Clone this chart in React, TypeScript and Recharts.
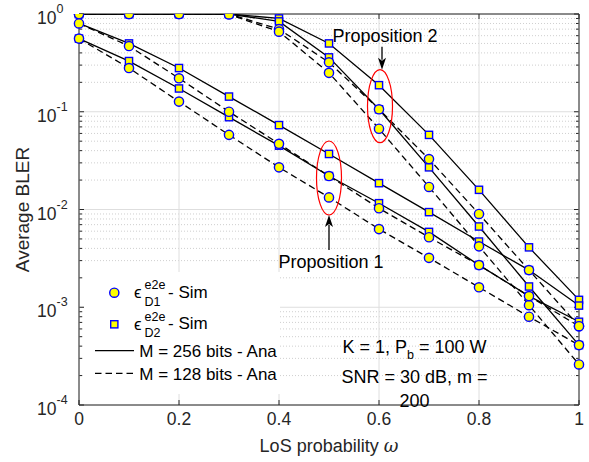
import { LineChart, Line, XAxis, YAxis, ReferenceLine, ReferenceDot, Legend } from 'recharts'

// LoS probability values on the x axis
const omega = [0, 0.1, 0.2, 0.3, 0.4, 0.5, 0.6, 0.7, 0.8, 0.9, 1]

// Proposition 2 group (starts at BLER = 1)
const p2SolidA = [1, 1, 1, 1, 0.9, 0.5, 0.187, 0.058, 0.0159, 0.0041, 0.00119]
const p2SolidB = [1, 1, 1, 1, 0.84, 0.36, 0.106, 0.027, 0.0067, 0.00163, 0.00041]
const p2DashA = [1, 1, 1, 1, 0.7, 0.32, 0.106, 0.0328, 0.009, 0.0024, 0.00064]
const p2DashB = [1, 1, 1, 0.99, 0.66, 0.25, 0.067, 0.017, 0.0042, 0.00105, 0.00026]

// Proposition 1 group
const p1SolidA = [0.8, 0.5, 0.28, 0.143, 0.073, 0.037, 0.0186, 0.0094, 0.0047, 0.0024, 0.00104]
const p1DashA = [0.8, 0.47, 0.22, 0.1, 0.047, 0.022, 0.0103, 0.0052, 0.0027, 0.0013, 0.00064]
const p1SolidB = [0.56, 0.33, 0.173, 0.088, 0.045, 0.022, 0.0116, 0.0059, 0.0027, 0.0013, 0.00071]
const p1DashB = [0.56, 0.28, 0.127, 0.058, 0.027, 0.0133, 0.0063, 0.0032, 0.0016, 0.0008, 0.00041]

const xTicks = [0, 0.2, 0.4, 0.6, 0.8, 1]
const xTickLabels = ['0', '0.2', '0.4', '0.6', '0.8', '1']
const yTicks = [1e-4, 1e-3, 1e-2, 1e-1, 1]
const yTickExp = ['-4', '-3', '-2', '-1', '0']
const minorMantissa = [2, 3, 4, 5, 6, 7, 8, 9]

const FONT = '"Liberation Sans", Arial, Helvetica, sans-serif'
const INK = '#262626'
const GRID = '#dedede'
const MINOR = '#cfcfcf'

type Series = { key: string; values: number[]; dashed: boolean; marker: 'square' | 'circle'; skip?: number[] }

const series: Series[] = [
  { key: 'p2SolidA', values: p2SolidA, dashed: false, marker: 'square' },
  { key: 'p2SolidB', values: p2SolidB, dashed: false, marker: 'square' },
  { key: 'p2DashA', values: p2DashA, dashed: true, marker: 'circle' },
  { key: 'p2DashB', values: p2DashB, dashed: true, marker: 'circle' },
  { key: 'p1SolidA', values: p1SolidA, dashed: false, marker: 'square', skip: [0] },
  { key: 'p1DashA', values: p1DashA, dashed: true, marker: 'circle' },
  { key: 'p1SolidB', values: p1SolidB, dashed: false, marker: 'square' },
  { key: 'p1DashB', values: p1DashB, dashed: true, marker: 'circle' },
]

const data = omega.map((w, i) => {
  const row: Record<string, number> = { w }
  series.forEach((s) => {
    row[s.key] = s.values[i]
  })
  return row
})

const yMinor: number[] = []
yTicks.slice(0, -1).forEach((d) => minorMantissa.forEach((m) => yMinor.push(m * d)))

// eslint-disable-next-line @typescript-eslint/no-explicit-any
const makeDot = (kind: 'square' | 'circle', skip: number[] = []) => (props: any) => {
  const { cx, cy, index, dataKey } = props
  const k = `${dataKey}-${index}`
  if (cx == null || cy == null || skip.includes(index)) return <g key={k} />
  if (kind === 'square')
    return <rect key={k} x={cx - 3.6} y={cy - 3.6} width={7.2} height={7.2} fill="#ffff00" stroke="#0000ff" strokeWidth={1.4} />
  return <circle key={k} cx={cx} cy={cy} r={4.6} fill="#ffff00" stroke="#0000ff" strokeWidth={1.4} />
}

// horizontal grid line with inward ticks on both sides
// eslint-disable-next-line @typescript-eslint/no-explicit-any
const hGrid = (major: boolean) => (p: any) => {
  const len = major ? 5 : 3
  const left = Math.min(p.x1, p.x2)
  const right = Math.max(p.x1, p.x2)
  return (
    <g>
      <line x1={left} y1={p.y1} x2={right} y2={p.y1} stroke={major ? GRID : MINOR} strokeWidth={1}
        strokeDasharray={major ? undefined : '1 2'} />
      <line x1={left} y1={p.y1} x2={left + len} y2={p.y1} stroke={INK} strokeWidth={1} />
      <line x1={right - len} y1={p.y1} x2={right} y2={p.y1} stroke={INK} strokeWidth={1} />
    </g>
  )
}

// eslint-disable-next-line @typescript-eslint/no-explicit-any
const vGrid = (p: any) => {
  const top = Math.min(p.y1, p.y2)
  const bottom = Math.max(p.y1, p.y2)
  return (
    <g>
      <line x1={p.x1} y1={top} x2={p.x1} y2={bottom} stroke={GRID} strokeWidth={1} />
      <line x1={p.x1} y1={top} x2={p.x1} y2={top + 5} stroke={INK} strokeWidth={1} />
      <line x1={p.x1} y1={bottom - 5} x2={p.x1} y2={bottom} stroke={INK} strokeWidth={1} />
    </g>
  )
}

// eslint-disable-next-line @typescript-eslint/no-explicit-any
const YTick = ({ y, index }: any) => (
  <text x={37} y={y + 10} fill={INK} fontSize={17.5} fontFamily={FONT}>
    10
    <tspan dy={-11} fontSize={12.5}>{yTickExp[index]}</tspan>
  </text>
)

// eslint-disable-next-line @typescript-eslint/no-explicit-any
const XTick = ({ x, y, index }: any) => (
  <text x={x} y={y} dy="0.71em" textAnchor="middle" fill={INK} fontSize={17.5} fontFamily={FONT}>
    {xTickLabels[index]}
  </text>
)

// eslint-disable-next-line @typescript-eslint/no-explicit-any
const Prop1 = ({ cx, cy }: any) => {
  const rx = 12.5
  const ry = 37
  const tip = cy + ry
  return (
    <g>
      <ellipse cx={cx} cy={cy} rx={rx} ry={ry} fill="none" stroke="#ff0000" strokeWidth={1.2} />
      <line x1={cx} y1={tip + 35} x2={cx} y2={tip + 10} stroke="#000" strokeWidth={1.3} />
      <polygon points={`${cx},${tip} ${cx - 4},${tip + 12} ${cx},${tip + 9} ${cx + 4},${tip + 12}`} fill="#000" />
      <text x={cx + 2} y={tip + 53} textAnchor="middle" fontSize={18} fontFamily={FONT} fill="#000">
        Proposition 1
      </text>
    </g>
  )
}

// eslint-disable-next-line @typescript-eslint/no-explicit-any
const Prop2 = ({ cx, cy }: any) => {
  const rx = 12.5
  const ry = 36.5
  const tip = cy - ry
  const ax = cx + 3
  return (
    <g>
      <ellipse cx={cx + 1} cy={cy} rx={rx} ry={ry} fill="none" stroke="#ff0000" strokeWidth={1.2} />
      <line x1={ax} y1={tip - 23} x2={ax} y2={tip - 10} stroke="#000" strokeWidth={1.3} />
      <polygon points={`${ax},${tip} ${ax - 4},${tip - 12} ${ax},${tip - 9} ${ax + 4},${tip - 12}`} fill="#000" />
      <text x={cx + 6} y={tip - 28} textAnchor="middle" fontSize={18} fontFamily={FONT} fill="#000">
        Proposition 2
      </text>
    </g>
  )
}

const LegendBox = () => (
  <svg width={196} height={122} style={{ display: 'block', background: '#fff' }} fontFamily={FONT}>
    <circle cx={30.3} cy={20.7} r={4.6} fill="#ffff00" stroke="#0000ff" strokeWidth={1.4} />
    <text x={50} y={26} fontSize={17} fill="#000">ϵ</text>
    <text x={60.5} y={17.3} fontSize={12.5} fill="#000">e2e</text>
    <text x={60.5} y={33.7} fontSize={12.5} fill="#000">D1</text>
    <text x={84} y={25.7} fontSize={17} fill="#000">- Sim</text>

    <rect x={26.7} y={48.7} width={7.2} height={7.2} fill="#ffff00" stroke="#0000ff" strokeWidth={1.4} />
    <text x={50} y={57.6} fontSize={17} fill="#000">ϵ</text>
    <text x={60.5} y={48.9} fontSize={12.5} fill="#000">e2e</text>
    <text x={60.5} y={65.3} fontSize={12.5} fill="#000">D2</text>
    <text x={84} y={57.3} fontSize={17} fill="#000">- Sim</text>

    <line x1={11} y1={78.7} x2={50} y2={78.7} stroke="#000" strokeWidth={1.3} />
    <text x={55.3} y={85.3} fontSize={17} fill="#000">M = 256 bits - Ana</text>
    <line x1={11} y1={101.3} x2={50} y2={101.3} stroke="#000" strokeWidth={1.3} strokeDasharray="6.5 4" />
    <text x={55.3} y={108} fontSize={17} fill="#000">M = 128 bits - Ana</text>
  </svg>
)

export default function App() {
  return (
    <div style={{ position: 'absolute', left: 0, top: 0, width: 589, height: 462, background: '#fff' }}>
      <LineChart width={589} height={462} data={data} margin={{ top: 14, right: 10, left: 19, bottom: 17 }}>
        <XAxis
          dataKey="w"
          type="number"
          domain={[0, 1]}
          ticks={xTicks}
          tick={<XTick />}
          tickLine={false}
          tickMargin={8}
          tickSize={0}
          axisLine={{ stroke: INK }}
          height={40}
          label={{
            content: ({ viewBox }: any) => (
              <text x={viewBox.x + viewBox.width / 2} y={viewBox.y + 47} textAnchor="middle" fontSize={18}
                fontFamily={FONT} fill={INK}>
                LoS probability <tspan fontStyle="italic" fontFamily="DejaVu Serif">ω</tspan>
              </text>
            ),
          }}
        />
        <YAxis
          type="number"
          scale="log"
          domain={[1e-4, 1]}
          allowDataOverflow
          ticks={yTicks}
          tick={<YTick />}
          tickLine={false}
          axisLine={{ stroke: INK }}
          width={60}
          label={{
            content: ({ viewBox }: any) => {
              const cx = viewBox.x + 10
              const cy = viewBox.y + viewBox.height / 2
              return (
                <text x={cx} y={cy} transform={`rotate(-90, ${cx}, ${cy})`} textAnchor="middle" fontSize={19}
                  fontFamily={FONT} fill={INK}>
                  Average BLER
                </text>
              )
            },
          }}
        />

        {yMinor.map((v) => (
          <ReferenceLine key={`ym${v}`} y={v} shape={hGrid(false)} />
        ))}
        {yTicks.map((v) => (
          <ReferenceLine key={`yM${v}`} y={v} shape={hGrid(true)} />
        ))}
        {xTicks.map((v) => (
          <ReferenceLine key={`x${v}`} x={v} shape={vGrid} />
        ))}
        <ReferenceLine y={1} stroke={INK} strokeWidth={1} />
        <ReferenceLine x={1} stroke={INK} strokeWidth={1} />

        {series.map((s) => (
          <Line
            key={`ln-${s.key}`}
            dataKey={s.key}
            type="linear"
            stroke="#000"
            strokeWidth={1.3}
            strokeDasharray={s.dashed ? '6.5 4' : undefined}
            dot={false}
            activeDot={false}
            isAnimationActive={false}
          />
        ))}
        {series
          .filter((s) => s.marker === 'square')
          .map((s) => (
            <Line
              key={`sq-${s.key}`}
              dataKey={s.key}
              stroke="none"
              dot={makeDot('square', s.skip)}
              activeDot={false}
              isAnimationActive={false}
            />
          ))}
        {series
          .filter((s) => s.marker === 'circle')
          .map((s) => (
            <Line
              key={`ci-${s.key}`}
              dataKey={s.key}
              stroke="none"
              dot={makeDot('circle', s.skip)}
              activeDot={false}
              isAnimationActive={false}
            />
          ))}

        <ReferenceDot x={0.5} y={0.021} shape={<Prop1 />} />
        <ReferenceDot x={0.6} y={0.114} shape={<Prop2 />} />

        <Legend
          layout="vertical"
          align="center"
          verticalAlign="middle"
          content={<LegendBox />}
          wrapperStyle={{ left: 84, top: 272, width: 196, height: 122, background: '#fff' }}
        />
      </LineChart>
      <svg width={589} height={462} style={{ position: 'absolute', left: 0, top: 0, pointerEvents: 'none' }}
        fontFamily={FONT}>
        <text x={414.5} y={352.7} textAnchor="middle" fontSize={18} fill="#000">
          K = 1, P<tspan dy={6} fontSize={12.5}>b</tspan>
          <tspan dy={-6}>{' = 100 W'}</tspan>
        </text>
        <text x={414.5} y={383.3} textAnchor="middle" fontSize={18} fill="#000">
          SNR = 30 dB, m =
        </text>
        <text x={414.5} y={406.7} textAnchor="middle" fontSize={18} fill="#000">
          200
        </text>
      </svg>
    </div>
  )
}
